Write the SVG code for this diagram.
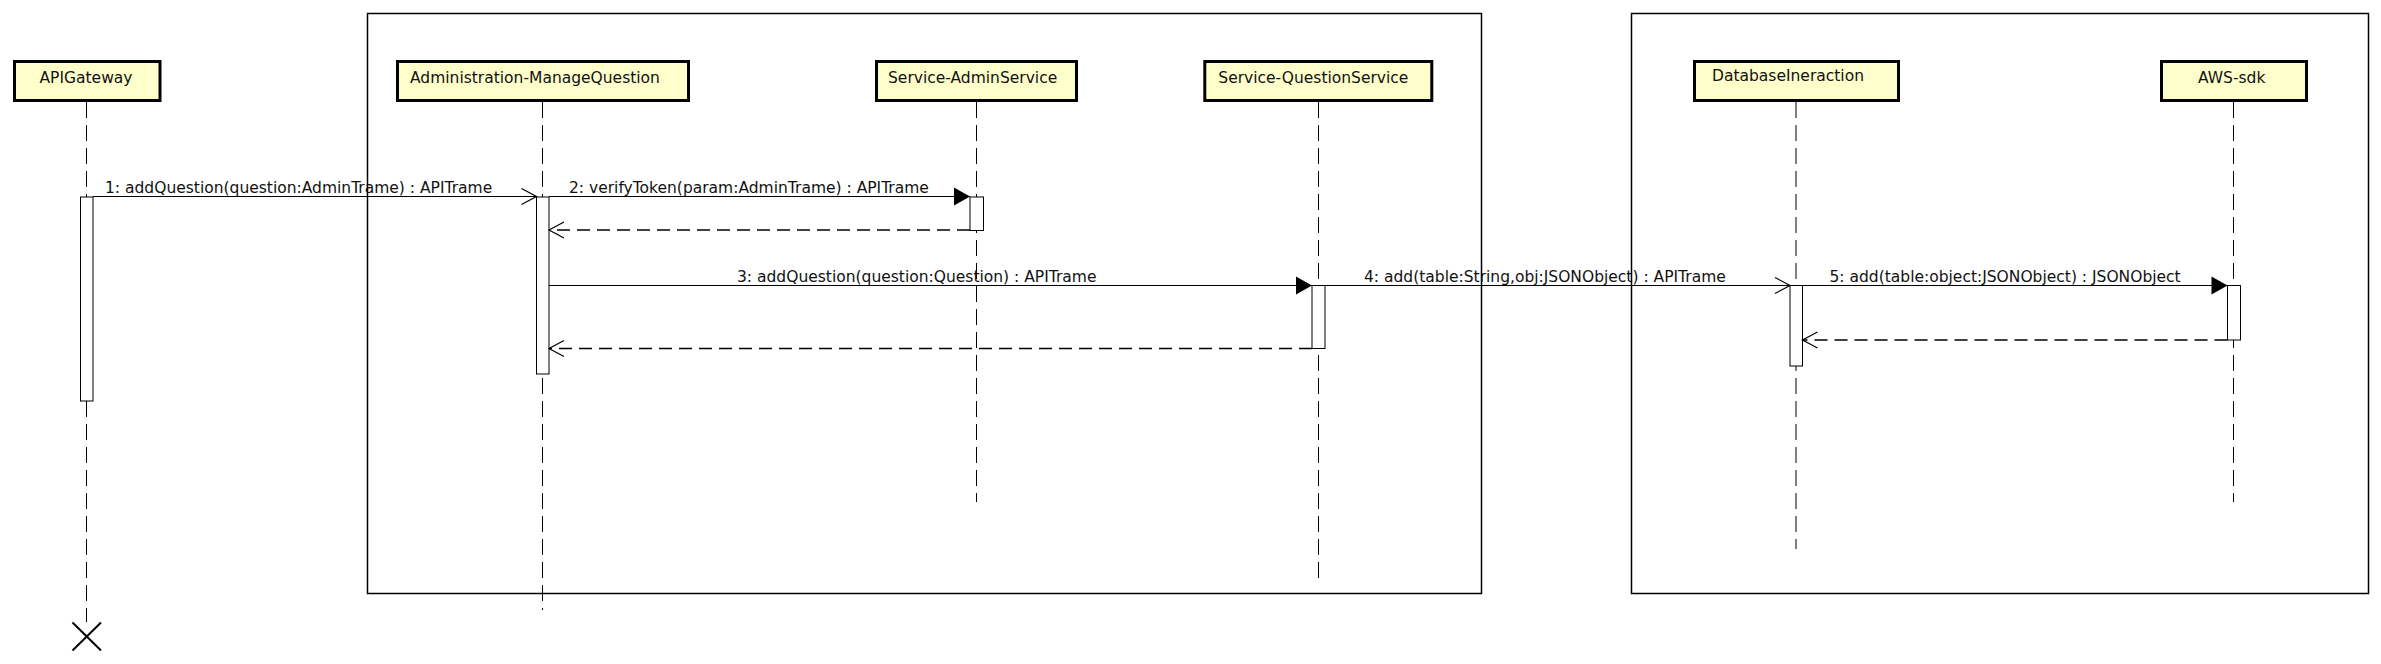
<svg xmlns="http://www.w3.org/2000/svg" width="2381" height="664" viewBox="0 0 2381 664">
<style>
  .box { fill: #FFFFCC; stroke: #000; stroke-width: 3; }
  .frame { fill: none; stroke: #000; stroke-width: 1.5; }
  .lbl { font-family: "DejaVu Sans", "Liberation Sans", sans-serif; font-size: 15.5px; fill: #111; }
  .life { stroke: #000; stroke-width: 1; stroke-dasharray: 16 7; fill: none; }
  .act { fill: #fff; stroke: #000; stroke-width: 1; }
  .msg { stroke: #000; stroke-width: 1.2; fill: none; }
  .ret { stroke: #000; stroke-width: 1.3; fill: none; stroke-dasharray: 13 7; }
  .xmark { stroke: #000; stroke-width: 2; fill: none; }
</style>
<defs>
  <marker id="open" markerUnits="userSpaceOnUse" markerWidth="20" markerHeight="20" viewBox="-18 -10 20 20" refX="0" refY="0" orient="auto">
    <path d="M-15,-8 L0,0 L-15,8" fill="none" stroke="#000" stroke-width="1.2"/>
  </marker>
  <marker id="filled" markerUnits="userSpaceOnUse" markerWidth="20" markerHeight="22" viewBox="-18 -11 20 22" refX="0" refY="0" orient="auto">
    <path d="M-16,-9 L0,0 L-16,9 Z" fill="#000" stroke="none"/>
  </marker>
</defs>

<g id="frames">
  <rect class="frame" x="367.5" y="13.5" width="1114" height="580"/>
  <rect class="frame" x="1631.5" y="13.5" width="737" height="580"/>
</g>

<g id="lifelines">
  <line class="life" x1="86.5" y1="102" x2="86.5" y2="622"/>
  <line class="life" x1="542.5" y1="102" x2="542.5" y2="610"/>
  <line class="life" x1="976.5" y1="102" x2="976.5" y2="502"/>
  <line class="life" x1="1318.5" y1="102" x2="1318.5" y2="583"/>
  <line class="life" x1="1796" y1="102" x2="1796" y2="549"/>
  <line class="life" x1="2233.5" y1="102" x2="2233.5" y2="502"/>
</g>

<g id="node-apigateway">
  <rect class="box" x="14.5" y="61.5" width="145.5" height="39"/>
  <text class="lbl" x="39.5" y="83.3">APIGateway</text>
  <rect class="act" x="80.5" y="197" width="12.5" height="204"/>
  <g class="xmark">
    <line x1="72.5" y1="622.5" x2="101" y2="650.5"/>
    <line x1="101" y1="622.5" x2="72.5" y2="650.5"/>
  </g>
</g>

<g id="node-admin-managequestion">
  <rect class="box" x="397.5" y="61.5" width="291" height="39"/>
  <text class="lbl" x="410" y="83.3">Administration-ManageQuestion</text>
  <rect class="act" x="536.5" y="197" width="12.5" height="177"/>
</g>

<g id="node-adminservice">
  <rect class="box" x="876.5" y="61.5" width="200" height="39"/>
  <text class="lbl" x="888" y="83">Service-AdminService</text>
  <rect class="act" x="970" y="197" width="13.5" height="33.5"/>
</g>

<g id="node-questionservice">
  <rect class="box" x="1204.8" y="61.5" width="227" height="39"/>
  <text class="lbl" x="1218.3" y="82.7">Service-QuestionService</text>
  <rect class="act" x="1312" y="285.5" width="13" height="63"/>
</g>

<g id="node-databaseineraction">
  <rect class="box" x="1694.5" y="61.5" width="204" height="39"/>
  <text class="lbl" x="1712" y="81">DatabaseIneraction</text>
  <rect class="act" x="1790" y="285.5" width="12.5" height="80.5"/>
</g>

<g id="node-aws-sdk">
  <rect class="box" x="2161.5" y="61.5" width="145" height="39"/>
  <text class="lbl" x="2198" y="83">AWS-sdk</text>
  <rect class="act" x="2227.5" y="285.5" width="13" height="54.5"/>
</g>

<g id="connectors">
  <line class="msg" x1="93" y1="196.5" x2="536.5" y2="196.5" marker-end="url(#open)"/>
  <text class="lbl" x="105" y="192.5">1: addQuestion(question:AdminTrame) : APITrame</text>

  <line class="msg" x1="549" y1="196.5" x2="970" y2="196.5" marker-end="url(#filled)"/>
  <text class="lbl" x="569" y="192.5">2: verifyToken(param:AdminTrame) : APITrame</text>

  <line class="ret" x1="970" y1="230" x2="549" y2="230" marker-end="url(#open)"/>

  <line class="msg" x1="549" y1="285.5" x2="1312" y2="285.5" marker-end="url(#filled)"/>
  <text class="lbl" x="737" y="281.5">3: addQuestion(question:Question) : APITrame</text>

  <line class="msg" x1="1325" y1="285.5" x2="1790" y2="285.5" marker-end="url(#open)"/>
  <text class="lbl" x="1364" y="281.5">4: add(table:String,obj:JSONObject) : APITrame</text>

  <line class="msg" x1="1802.5" y1="285.5" x2="2227.5" y2="285.5" marker-end="url(#filled)"/>
  <text class="lbl" x="1829.5" y="281.5">5: add(table:object:JSONObject) : JSONObject</text>

  <line class="ret" x1="2227.5" y1="340" x2="1802.5" y2="340" marker-end="url(#open)"/>

  <line class="ret" x1="1312" y1="348.5" x2="549" y2="348.5" marker-end="url(#open)"/>
</g>
</svg>
